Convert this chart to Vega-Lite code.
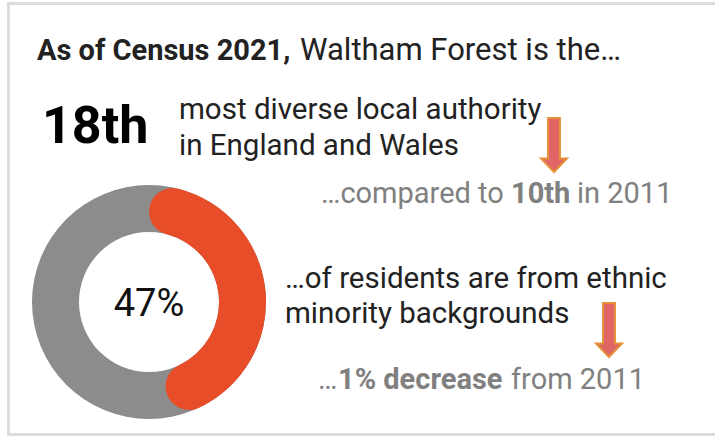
{
  "$schema": "https://vega.github.io/schema/vega-lite/v6.json",
  "width": 715,
  "height": 437,
  "autosize": "none",
  "padding": 0,
  "background": "white",
  "config": {
    "view": {"stroke": null},
    "text": {"font": "Roboto", "baseline": "alphabetic", "align": "left"}
  },
  "datasets": {
    "ethnicity": [
      {"group": "Ethnic minority", "share": 0.47},
      {"group": "Other", "share": 0.53}
    ],
    "ranking": [
      {"year": 2021, "rank": "18th"},
      {"year": 2011, "rank": "10th"}
    ]
  },
  "data": {"name": "ethnicity"},
  "layer": [
    {
      "description": "card outline",
      "transform": [{"filter": "datum.group === 'Other'"}],
      "mark": {"type": "rect", "x": 8.5, "y": 3.5, "x2": 722, "y2": 434.5, "fill": null, "stroke": "#dcdcdc", "strokeWidth": 3},
      "encoding": {}
    },
    {
      "description": "grey ring behind the share",
      "transform": [{"filter": "datum.group === 'Other'"}],
      "mark": {"type": "arc", "x": 149, "y": 302, "innerRadius": 70, "outerRadius": 117, "theta": 0, "theta2": 6.2832, "fill": "#8c8c8c"},
      "encoding": {}
    },
    {
      "description": "ethnic minority share",
      "transform": [{"filter": "datum.group === 'Ethnic minority'"}],
      "mark": {"type": "arc", "x": 149, "y": 302, "innerRadius": 70, "outerRadius": 117, "cornerRadius": 24, "fill": "#e84d2a"},
      "encoding": {
        "theta": {"field": "share", "type": "quantitative", "stack": true, "scale": {"domain": [0, 1]}}
      }
    },
    {
      "transform": [{"filter": "datum.group === 'Ethnic minority'"}],
      "mark": {"type": "text", "x": 149, "y": 316, "align": "center", "fontSize": 38, "color": "#111"},
      "encoding": {
        "text": {"field": "share", "type": "quantitative", "format": ".0%"}
      }
    },
    {
      "mark": {"type": "text", "x": 37, "y": 60, "fontSize": 29, "fontWeight": "bold", "color": "#222", "text": "As of Census 2021,"},
      "transform": [{"filter": "datum.group === 'Other'"}],
      "encoding": {}
    },
    {
      "mark": {"type": "text", "x": 300, "y": 60, "fontSize": 31, "color": "#222", "text": "Waltham Forest is the…"},
      "transform": [{"filter": "datum.group === 'Other'"}],
      "encoding": {}
    },
    {
      "data": {"name": "ranking"},
      "transform": [{"filter": "datum.year === 2021"}],
      "mark": {"type": "text", "x": 42, "y": 143, "fontSize": 52, "fontWeight": "bold", "color": "#000"},
      "encoding": {"text": {"field": "rank"}}
    },
    {
      "mark": {"type": "text", "x": 179, "y": 119, "fontSize": 29.5, "lineHeight": 36, "color": "#222", "text": ["most diverse local authority", "in England and Wales"]},
      "transform": [{"filter": "datum.group === 'Other'"}],
      "encoding": {}
    },
    {
      "mark": {"type": "text", "x": 321, "y": 203, "fontSize": 29, "color": "#808080", "text": "…compared to"},
      "transform": [{"filter": "datum.group === 'Other'"}],
      "encoding": {}
    },
    {
      "data": {"name": "ranking"},
      "transform": [{"filter": "datum.year === 2011"}],
      "mark": {"type": "text", "x": 511, "y": 203, "fontSize": 29, "fontWeight": "bold", "color": "#808080"},
      "encoding": {"text": {"field": "rank"}}
    },
    {
      "mark": {"type": "text", "x": 577, "y": 203, "fontSize": 29, "color": "#808080", "text": "in 2011"},
      "transform": [{"filter": "datum.group === 'Other'"}],
      "encoding": {}
    },
    {
      "mark": {"type": "text", "x": 285, "y": 288, "fontSize": 29.5, "lineHeight": 35, "color": "#222", "text": ["…of residents are from ethnic", "minority backgrounds"]},
      "transform": [{"filter": "datum.group === 'Other'"}],
      "encoding": {}
    },
    {
      "mark": {"type": "text", "x": 318, "y": 389, "fontSize": 29, "color": "#808080", "text": "…"},
      "transform": [{"filter": "datum.group === 'Other'"}],
      "encoding": {}
    },
    {
      "mark": {"type": "text", "x": 338, "y": 389, "fontSize": 29, "fontWeight": "bold", "color": "#808080", "text": "1% decrease"},
      "transform": [{"filter": "datum.group === 'Other'"}],
      "encoding": {}
    },
    {
      "mark": {"type": "text", "x": 511, "y": 389, "fontSize": 29, "color": "#808080", "text": "from 2011"},
      "transform": [{"filter": "datum.group === 'Other'"}],
      "encoding": {}
    },
    {
      "description": "down arrows",
      "transform": [{"filter": "datum.group === 'Other'"}],
      "mark": {"type": "point", "x": 554, "y": 145, "shape": "M -0.22 -1 L 0.22 -1 L 0.22 0.5 L 0.48 0.5 L 0 1 L -0.48 0.5 L -0.22 0.5 Z", "size": 2916, "filled": true, "fill": "#e06666", "stroke": "#e69138", "strokeWidth": 2, "opacity": 1},
      "encoding": {}
    },
    {
      "transform": [{"filter": "datum.group === 'Other'"}],
      "mark": {"type": "point", "x": 609, "y": 330, "shape": "M -0.22 -1 L 0.22 -1 L 0.22 0.5 L 0.48 0.5 L 0 1 L -0.48 0.5 L -0.22 0.5 Z", "size": 2916, "filled": true, "fill": "#e06666", "stroke": "#e69138", "strokeWidth": 2, "opacity": 1},
      "encoding": {}
    }
  ]
}
